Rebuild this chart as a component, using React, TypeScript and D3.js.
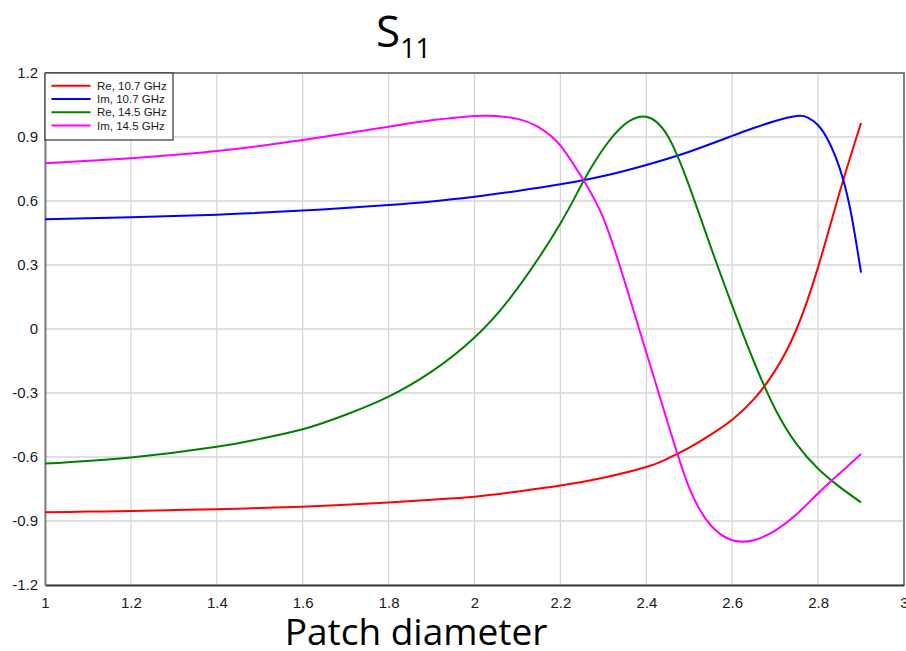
import { useEffect, useRef } from "react";
import * as d3 from "d3";

const width = 906;
const height = 651;
const margin = { top: 73, right: 2, bottom: 66, left: 45 };

const xTicks = [1, 1.2, 1.4, 1.6, 1.8, 2, 2.2, 2.4, 2.6, 2.8, 3];
const yTicks = [-1.2, -0.9, -0.6, -0.3, 0, 0.3, 0.6, 0.9, 1.2];

// Re, 10.7 GHz
const reLowX = [1, 1.1, 1.2, 1.3, 1.4, 1.5, 1.6, 1.7, 1.8, 1.9, 2, 2.1, 2.2, 2.3, 2.4, 2.45, 2.5, 2.55, 2.6, 2.65, 2.7, 2.75, 2.8, 2.85, 2.9];
const reLowY = [-0.859, -0.856, -0.853, -0.849, -0.845, -0.839, -0.833, -0.824, -0.813, -0.8, -0.786, -0.762, -0.734, -0.697, -0.647, -0.607, -0.556, -0.495, -0.425, -0.33, -0.195, 0.0, 0.29, 0.64, 0.966];

// Im, 10.7 GHz
const imLowX = [1, 1.2, 1.4, 1.6, 1.8, 1.9, 2, 2.1, 2.2, 2.3, 2.4, 2.5, 2.6, 2.65, 2.7, 2.75, 2.775, 2.8, 2.825, 2.85, 2.875, 2.9];
const imLowY = [0.514, 0.524, 0.536, 0.555, 0.581, 0.598, 0.62, 0.647, 0.678, 0.717, 0.769, 0.831, 0.905, 0.942, 0.975, 0.998, 0.992, 0.955, 0.878, 0.755, 0.56, 0.264];

// Re, 14.5 GHz
const reHighX = [1, 1.2, 1.4, 1.5, 1.6, 1.7, 1.8, 1.9, 2, 2.1, 2.2, 2.25, 2.3, 2.35, 2.4, 2.45, 2.5, 2.55, 2.6, 2.65, 2.7, 2.75, 2.8, 2.85, 2.9];
const reHighY = [-0.631, -0.602, -0.552, -0.515, -0.47, -0.402, -0.317, -0.2, -0.04, 0.19, 0.495, 0.68, 0.845, 0.96, 0.995, 0.905, 0.67, 0.385, 0.11, -0.15, -0.375, -0.54, -0.655, -0.74, -0.813];

// Im, 14.5 GHz
const imHighX = [1, 1.2, 1.4, 1.6, 1.8, 1.9, 2, 2.05, 2.1, 2.15, 2.2, 2.25, 2.3, 2.35, 2.4, 2.45, 2.5, 2.55, 2.6, 2.65, 2.7, 2.75, 2.8, 2.85, 2.9];
const imHighY = [0.777, 0.8, 0.834, 0.886, 0.948, 0.978, 0.998, 0.998, 0.985, 0.945, 0.86, 0.71, 0.52, 0.22, -0.11, -0.44, -0.745, -0.92, -0.99, -0.99, -0.945, -0.868, -0.77, -0.677, -0.586];

const seriesNames = ["Re, 10.7 GHz", "Im, 10.7 GHz", "Re, 14.5 GHz", "Im, 14.5 GHz"];
const seriesColors = ["#ff0000", "#0000ff", "#008000", "#ff00ff"];
const seriesX = [reLowX, imLowX, reHighX, imHighX];
const seriesY = [reLowY, imLowY, reHighY, imHighY];

const App = () => {
  const svgRef = useRef<SVGSVGElement>(null);

  useEffect(() => {
    const svg = d3.select(svgRef.current);
    svg.selectAll("*").remove();

    const x = d3.scaleLinear().domain([1, 3]).range([margin.left, width - margin.right]);
    const y = d3.scaleLinear().domain([-1.2, 1.2]).range([height - margin.bottom, margin.top]);

    // grid
    svg
      .append("g")
      .selectAll("line")
      .data(xTicks)
      .join("line")
      .attr("x1", (d) => x(d))
      .attr("x2", (d) => x(d))
      .attr("y1", y(-1.2))
      .attr("y2", y(1.2))
      .attr("stroke", "#d6d6d6")
      .attr("stroke-width", 1.3);
    svg
      .append("g")
      .selectAll("line")
      .data(yTicks)
      .join("line")
      .attr("x1", x(1))
      .attr("x2", x(3))
      .attr("y1", (d) => y(d))
      .attr("y2", (d) => y(d))
      .attr("stroke", "#d6d6d6")
      .attr("stroke-width", 1.3);

    // frame
    svg
      .append("path")
      .attr("d", `M${x(1)},${y(1.2)}H${x(3)}V${y(-1.2)}`)
      .attr("fill", "none")
      .attr("stroke", "#7f7f7f")
      .attr("stroke-width", 2);

    // axes
    const xAxis = d3
      .axisBottom(x)
      .tickValues(xTicks)
      .tickSize(0)
      .tickPadding(12)
      .tickFormat((d) => String(d));
    const yAxis = d3
      .axisLeft(y)
      .tickValues(yTicks)
      .tickSize(0)
      .tickPadding(7)
      .tickFormat((d) => String(d));

    const gx = svg
      .append("g")
      .attr("transform", `translate(0,${y(-1.2)})`)
      .call(xAxis);
    gx.select(".domain").attr("stroke", "#3a3a3a").attr("stroke-width", 2);
    gx.selectAll("text")
      .attr("font-family", "Liberation Sans, Arial, sans-serif")
      .attr("font-size", 15)
      .attr("fill", "#1a1a1a");

    const gy = svg
      .append("g")
      .attr("transform", `translate(${x(1)},0)`)
      .call(yAxis);
    gy.select(".domain").attr("stroke", "#7f7f7f").attr("stroke-width", 2);
    gy.selectAll("text")
      .attr("font-family", "Liberation Sans, Arial, sans-serif")
      .attr("font-size", 15)
      .attr("fill", "#1a1a1a");

    // lines
    const lineGen = d3
      .line<[number, number]>()
      .x((d) => x(d[0]))
      .y((d) => y(d[1]))
      .curve(d3.curveNatural);

    seriesNames.forEach((name, i) => {
      const pts = seriesX[i].map((v, j) => [v, seriesY[i][j]] as [number, number]);
      svg
        .append("path")
        .datum(pts)
        .attr("d", lineGen)
        .attr("fill", "none")
        .attr("stroke", seriesColors[i])
        .attr("stroke-width", 2);
    });

    // legend
    const legend = svg.append("g").attr("transform", `translate(${x(1)},${y(1.2)})`);
    legend
      .append("rect")
      .attr("width", 128)
      .attr("height", 67)
      .attr("fill", "#fff")
      .attr("stroke", "#333")
      .attr("stroke-width", 1.2);
    const rows = legend
      .selectAll("g")
      .data(seriesNames)
      .join("g")
      .attr("transform", (d, i) => `translate(0,${12.7 + i * 13.3})`);
    rows
      .append("line")
      .attr("x1", 6.5)
      .attr("x2", 45.5)
      .attr("stroke", (d, i) => seriesColors[i])
      .attr("stroke-width", 2);
    rows
      .append("text")
      .attr("x", 52)
      .attr("dy", "0.35em")
      .attr("font-family", "Liberation Sans, Arial, sans-serif")
      .attr("font-size", 11.5)
      .attr("fill", "#1a1a1a")
      .text((d) => d);

    // titles
    const title = svg
      .append("text")
      .attr("x", 376)
      .attr("y", 47)
      .attr("font-family", "Open Sans, sans-serif")
      .attr("font-size", 44)
      .attr("fill", "#000");
    title.append("tspan").text("S");
    title.append("tspan").attr("font-size", 27).attr("dy", 11).text("11");

    svg
      .append("text")
      .attr("x", 416)
      .attr("y", 645)
      .attr("text-anchor", "middle")
      .attr("font-family", "Open Sans, sans-serif")
      .attr("font-size", 37)
      .attr("fill", "#000")
      .text("Patch diameter");
  }, []);

  return (
    <svg
      ref={svgRef}
      width={width}
      height={height}
      style={{ position: "absolute", left: 0, top: 0, background: "#fff" }}
    />
  );
};

export default App;
